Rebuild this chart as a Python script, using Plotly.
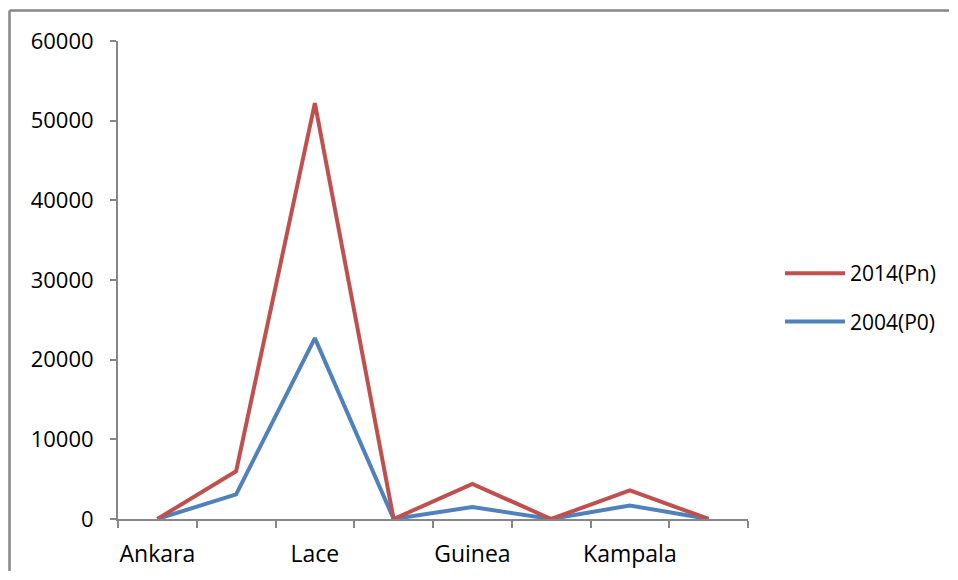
import plotly.graph_objects as go

categories = ["Ankara", "", "Lace", "", "Guinea", "", "Kampala", ""]
series_2014 = [0, 6000, 52200, 0, 4400, 0, 3600, 0]
series_2004 = [0, 3100, 22700, 0, 1500, 0, 1700, 0]
y_ticks = [0, 10000, 20000, 30000, 40000, 50000, 60000]

x_idx = list(range(len(categories)))
label_idx = [i for i, c in enumerate(categories) if c]
label_txt = [categories[i] for i in label_idx]

RED = "#C0504D"
BLUE = "#4F81BD"
AXIS = "#868686"
FONT = "Open Sans"

fig = go.Figure()
fig.add_trace(go.Scatter(x=x_idx, y=series_2004, mode="lines", name="2004(P0)",
                         line=dict(color=BLUE, width=4), legendgroup="b", legendrank=2))
fig.add_trace(go.Scatter(x=x_idx, y=series_2014, mode="lines", name="2014(Pn)",
                         line=dict(color=RED, width=4), legendgroup="a", legendrank=1))

OFF = 8  # page body margin
W, H = 942, 564
L, R, T, B = 118 - OFF, 748 - OFF, 41 - OFF, 519 - OFF
pw, ph = R - L, B - T

def px(x):
    return (x - OFF - L) / pw

def py(y):
    return (B - (y - OFF)) / ph

fig.update_layout(
    width=W, height=H,
    autosize=False,
    margin=dict(l=L, r=W - R, t=T, b=H - B, pad=0, autoexpand=False),
    paper_bgcolor="white", plot_bgcolor="white",
    font=dict(family=FONT, size=22, color="#000000"),
    showlegend=True,
    legend=dict(x=px(780), y=py(253), xanchor="left", yanchor="top",
                font=dict(size=21), tracegroupgap=18, itemwidth=60,
                bgcolor="rgba(0,0,0,0)"),
    xaxis=dict(range=[-0.5, len(categories) - 0.5], showgrid=False, zeroline=False,
               showline=True, linecolor=AXIS, linewidth=2,
               tickmode="array", tickvals=label_idx, ticktext=label_txt, ticks="",
               ticklabelstandoff=13, tickfont=dict(size=23),
               minor=dict(tickmode="array", tickvals=[i - 0.5 for i in range(len(categories) + 1)],
                          ticks="outside", ticklen=7, tickwidth=2, tickcolor=AXIS, showgrid=False)),
    yaxis=dict(range=[0, 60000], showgrid=False, zeroline=False,
               showline=True, linecolor=AXIS, linewidth=2,
               tickmode="array", tickvals=y_ticks, ticktext=[str(v) for v in y_ticks],
               ticks="outside", ticklen=6, tickwidth=2, tickcolor=AXIS,
               ticklabelstandoff=12),
    shapes=[
        dict(type="line", xref="paper", yref="paper", x0=px(9.5), x1=px(949), y0=py(10.5), y1=py(10.5),
             line=dict(color=AXIS, width=2.5)),
        dict(type="line", xref="paper", yref="paper", x0=px(9.5), x1=px(9.5), y0=py(10.5), y1=py(571),
             line=dict(color=AXIS, width=2.5)),
    ],
)

fig.write_html("out.html")
